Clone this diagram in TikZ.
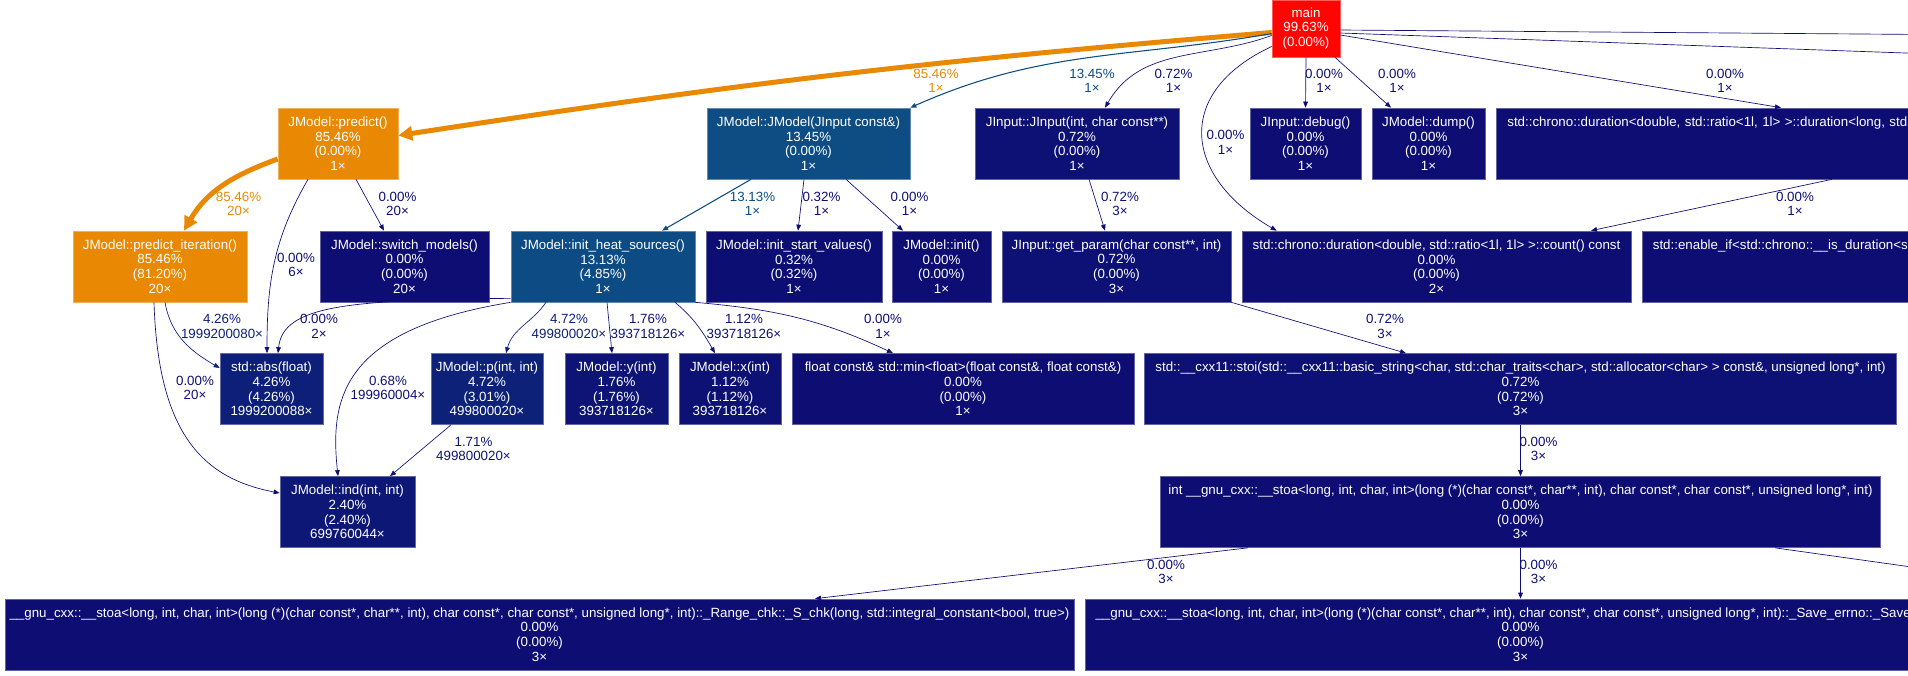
\documentclass[tikz,border=0pt]{standalone}
\usepackage{fontspec}
\setmainfont{Liberation Sans}
\usepackage{tikz}
\usetikzlibrary{calc,arrows.meta}
\definecolor{profRed}{HTML}{FF0400}
\definecolor{profOrange}{HTML}{E98903}
\definecolor{profTeal}{HTML}{0D4D84}
\definecolor{profTealB}{HTML}{0D4B84}
\definecolor{profNavy}{HTML}{0D0D73}
\definecolor{profNavyA}{HTML}{0D0E73}
\definecolor{profNavyB}{HTML}{0D1074}
\definecolor{profNavyC}{HTML}{0D1174}
\definecolor{profNavyD}{HTML}{0D1475}
\definecolor{profNavyE}{HTML}{0D1776}
\definecolor{profNavyF}{HTML}{0D1F78}
\definecolor{profNavyG}{HTML}{0D2179}
\newcommand{\gvfont}{\fontsize{10}{11}\selectfont}
\tikzset{
  fnbox/.style={rectangle, draw=#1!65!white, fill=#1, line width=0.5pt, text=white, font=\gvfont, align=center, inner sep=0pt, minimum height=53.25pt},
  cutbox/.style={fnbox=#1, anchor=west, align=left, text width=420pt, inner xsep=8.25pt},
  callarrow/.style={-{Triangle[length=4.5pt,width=3.5pt]}, line width=0.5pt, draw=#1},
  hotarrow/.style={-{Triangle[length=10.5pt,width=10.5pt]}, line width=3.75pt, draw=profOrange},
  calllabel/.style={text=#1, font=\gvfont, align=center, inner sep=0pt},
}
\begin{document}
\begin{tikzpicture}[x=0.75pt,y=0.75pt]
  \useasboundingbox (0,0) rectangle (1908,-675);
  \clip (0,0) rectangle (1908,-675);

  % --- functions ---
  \node[fnbox=profRed, minimum width=51pt, minimum height=42.75pt] (main) at (1306,-28.5) {main\\99.63\%\\(0.00\%)};

  \node[fnbox=profOrange, minimum width=90pt] (predict) at (338,-143.5) {JModel::predict()\\85.46\%\\(0.00\%)\\1×};
  \node[fnbox=profTeal, minimum width=152.25pt] (jmodel) at (808.5,-143.5) {JModel::JModel(JInput const\&)\\13.45\%\\(0.00\%)\\1×};
  \node[fnbox=profNavyB, minimum width=153pt] (jinput) at (1077,-143.5) {JInput::JInput(int, char const**)\\0.72\%\\(0.00\%)\\1×};
  \node[fnbox=profNavy, minimum width=83.25pt] (debug) at (1305.5,-143.5) {JInput::debug()\\0.00\%\\(0.00\%)\\1×};
  \node[fnbox=profNavy, minimum width=84.75pt] (dump) at (1428.5,-143.5) {JModel::dump()\\0.00\%\\(0.00\%)\\1×};
  \node[cutbox=profNavy] (durlong) at (1496,-143.5) {std::chrono::duration<double, std::ratio<1l, 1l> >::duration<long, std::\\~\\~\\~};

  \node[fnbox=profOrange, minimum width=130.5pt] (predit) at (160,-266.5) {JModel::predict\_iteration()\\85.46\%\\(81.20\%)\\20×};
  \node[fnbox=profNavy, minimum width=126.75pt] (switchm) at (404.5,-266.5) {JModel::switch\_models()\\0.00\%\\(0.00\%)\\20×};
  \node[fnbox=profTealB, minimum width=138pt] (heat) at (603,-266.5) {JModel::init\_heat\_sources()\\13.13\%\\(4.85\%)\\1×};
  \node[fnbox=profNavyA, minimum width=132pt] (startv) at (794,-266.5) {JModel::init\_start\_values()\\0.32\%\\(0.32\%)\\1×};
  \node[fnbox=profNavy, minimum width=74.25pt] (initm) at (941.5,-266.5) {JModel::init()\\0.00\%\\(0.00\%)\\1×};
  \node[fnbox=profNavyB, minimum width=171.75pt] (getparam) at (1116.5,-266.5) {JInput::get\_param(char const**, int)\\0.72\%\\(0.00\%)\\3×};
  \node[fnbox=profNavy, minimum width=291.75pt] (count) at (1436.5,-266.5) {std::chrono::duration<double, std::ratio<1l, 1l> >::count() const\\0.00\%\\(0.00\%)\\2×};
  \node[cutbox=profNavy] (enableif) at (1641.5,-266.5) {std::enable\_if<std::chrono::\_\_is\_duration<st\\~\\~\\~};

  \node[fnbox=profNavyF, minimum width=77.25pt] (absf) at (271.5,-389) {std::abs(float)\\4.26\%\\(4.26\%)\\1999200088×};
  \node[fnbox=profNavyG, minimum width=84pt] (pfn) at (487,-389) {JModel::p(int, int)\\4.72\%\\(3.01\%)\\499800020×};
  \node[fnbox=profNavyD, minimum width=77.25pt] (yfn) at (616.5,-389) {JModel::y(int)\\1.76\%\\(1.76\%)\\393718126×};
  \node[fnbox=profNavyC, minimum width=76.5pt] (xfn) at (730,-389) {JModel::x(int)\\1.12\%\\(1.12\%)\\393718126×};
  \node[fnbox=profNavy, minimum width=256.5pt] (minf) at (963,-389) {float const\& std::min<float>(float const\&, float const\&)\\0.00\%\\(0.00\%)\\1×};
  \node[fnbox=profNavyB, minimum width=564pt] (stoi) at (1520.5,-389) {std::\_\_cxx11::stoi(std::\_\_cxx11::basic\_string<char, std::char\_traits<char>, std::allocator<char> > const\&, unsigned long*, int)\\0.72\%\\(0.72\%)\\3×};

  \node[fnbox=profNavyE, minimum width=101.25pt] (ind) at (347.5,-512) {JModel::ind(int, int)\\2.40\%\\(2.40\%)\\699760044×};
  \node[fnbox=profNavy, minimum width=540pt] (stoa) at (1520.5,-512) {int \_\_gnu\_cxx::\_\_stoa<long, int, char, int>(long (*)(char const*, char**, int), char const*, char const*, unsigned long*, int)\\0.00\%\\(0.00\%)\\3×};

  \node[fnbox=profNavy, minimum width=801.75pt] (rangechk) at (539.5,-634.5) {\_\_gnu\_cxx::\_\_stoa<long, int, char, int>(long (*)(char const*, char**, int), char const*, char const*, unsigned long*, int)::\_Range\_chk::\_S\_chk(long, std::integral\_constant<bool, true>)\\0.00\%\\(0.00\%)\\3×};
  \node[fnbox=profNavy, minimum width=653.25pt] (saveerr) at (1520.5,-634.5) {\makebox[637.5pt][l]{\_\_gnu\_cxx::\_\_stoa<long, int, char, int>(long (*)(char const*, char**, int), char const*, char const*, unsigned long*, int)::\_Save\_errno::\_Save\_}\\0.00\%\\(0.00\%)\\3×};

  % --- calls ---
  \coordinate (offA) at (1990,-35);
  \coordinate (offB) at (1990,-56);
  \coordinate (offC) at (1990,-578);

  \draw[hotarrow] ($(main.west)+(0,-4)$) to[bend right=2] ($(predict.east)+(0,8)$);
  \draw[callarrow=profTeal, line width=0.8pt] ($(main.west)+(0,-5)$) to[out=190,in=24] (jmodel.north east);
  \draw[callarrow=profNavyB] ($(main.west)+(0,-7)$) to[out=200,in=60] ($(jinput.north)+(28,0)$);
  \draw[callarrow=profNavy] ($(main.west)+(0,-18)$) to[out=205,in=150,looseness=1.5] ($(count.north west)+(35,0)$);
  \draw[callarrow=profNavy] (main.south) -- (debug.north);
  \draw[callarrow=profNavy] ($(main.south)+(29,0)$) -- ($(dump.north)+(-37.5,0)$);
  \draw[callarrow=profNavy] ($(main.east)+(0,-6.5)$) -- ($(durlong.north west)+(285,0)$);
  \draw[callarrow=profNavy] ($(main.east)+(0,-1.5)$) -- (offA);
  \draw[callarrow=profNavy] ($(main.east)+(0,-4.5)$) -- (offB);
  \draw[callarrow=profNavy] ($(durlong.south west)+(336,0)$) -- ($(count.north)+(154.5,0)$);

  \draw[hotarrow] ($(predict.west)+(0,-15.5)$) to[out=200,in=60] ($(predit.north)+(24,0)$);
  \draw[callarrow=profNavy] ($(predict.south)+(18,0)$) -- ($(switchm.north)+(-20.5,0)$);
  \draw[callarrow=profNavy] ($(predict.south)+(-30,0)$) to[out=240,in=90] ($(absf.north)+(-4.5,0)$);
  \draw[callarrow=profNavyF] ($(predit.south)+(5,0)$) to[out=280,in=150] ($(absf.west)+(0,21)$);
  \draw[callarrow=profNavy] ($(predit.south)+(-6,0)$) .. controls (158,-430) and (200,-478) .. ($(ind.west)+(0,19)$);

  \draw[callarrow=profTealB, line width=0.8pt] ($(jmodel.south)+(-57.5,0)$) -- ($(heat.north)+(59,0)$);
  \draw[callarrow=profNavyA] ($(jmodel.south)+(-4.5,0)$) -- ($(startv.north)+(4,0)$);
  \draw[callarrow=profNavy] ($(jmodel.south)+(37.5,0)$) -- ($(initm.north)+(-38.5,0)$);
  \draw[callarrow=profNavyB] ($(jinput.south)+(12,0)$) -- ($(getparam.north)+(-11.5,0)$);
  \draw[callarrow=profNavyB] (getparam.south east) -- ($(stoi.north)+(-114.5,0)$);

  \draw[callarrow=profNavy] ($(heat.south west)+(0,4)$) .. controls (350,-300) and (283,-305) .. ($(absf.north)+(6.5,0)$);
  \draw[callarrow=profNavyB] (heat.south west) .. controls (340,-330) and (330,-400) .. ($(ind.north)+(-9.5,0)$);
  \draw[callarrow=profNavyG] ($(heat.south)+(-57,0)$) to[out=235,in=75] ($(pfn.north)+(19,0)$);
  \draw[callarrow=profNavyD] ($(heat.south)+(4,0)$) -- ($(yfn.north)+(-4.5,0)$);
  \draw[callarrow=profNavyC] ($(heat.south)+(72,0)$) to[out=-40,in=120] ($(xfn.north)+(-15,0)$);
  \draw[callarrow=profNavy] (heat.south east) to[out=-5,in=155] ($(minf.north)+(-70,0)$);

  \draw[callarrow=profNavyD] ($(pfn.south)+(-36,0)$) -- ($(ind.north)+(42.5,0)$);
  \draw[callarrow=profNavy] (stoi) -- (stoa);
  \draw[callarrow=profNavy] ($(stoa.south)+(-272.5,0)$) -- ($(rangechk.north)+(275.5,0)$);
  \draw[callarrow=profNavy] (stoa) -- (saveerr);
  \draw[callarrow=profNavy] ($(stoa.south)+(254.5,0)$) -- (offC);

  % --- call labels ---
  \node[calllabel=profOrange] (lmp) at (936,-81) {85.46\%\\1×};
  \node[calllabel=profTeal] (lmj) at (1092,-81) {13.45\%\\1×};
  \node[calllabel=profNavyB] (lmi) at (1173.5,-81) {0.72\%\\1×};
  \node[calllabel=profNavy] (lmc) at (1225.5,-142.5) {0.00\%\\1×};
  \node[calllabel=profNavy] (lmd) at (1324,-81) {0.00\%\\1×};
  \node[calllabel=profNavy] (lmu) at (1397,-81) {0.00\%\\1×};
  \node[calllabel=profNavy] (lml) at (1725,-81) {0.00\%\\1×};
  \node[calllabel=profNavy] (llc) at (1795,-204) {0.00\%\\1×};
  \node[calllabel=profOrange] (lpi) at (238.5,-204) {85.46\%\\20×};
  \node[calllabel=profNavy] (lps) at (397.5,-204) {0.00\%\\20×};
  \node[calllabel=profNavy] (lpa) at (296,-265) {0.00\%\\6×};
  \node[calllabel=profNavyF] (lia) at (222,-326.5) {4.26\%\\1999200080×};
  \node[calllabel=profNavy] (lin) at (195,-388) {0.00\%\\20×};
  \node[calllabel=profNavy] (lha) at (319,-326.5) {0.00\%\\2×};
  \node[calllabel=profNavyB] (lhn) at (388,-388) {0.68\%\\199960004×};
  \node[calllabel=profNavyG] (lhp) at (569,-326.5) {4.72\%\\499800020×};
  \node[calllabel=profNavyD] (lhy) at (648,-326.5) {1.76\%\\393718126×};
  \node[calllabel=profNavyC] (lhx) at (744,-326.5) {1.12\%\\393718126×};
  \node[calllabel=profNavy] (lhm) at (883,-326.5) {0.00\%\\1×};
  \node[calllabel=profTealB] (ljh) at (752.5,-204) {13.13\%\\1×};
  \node[calllabel=profNavyA] (ljs) at (821.5,-204) {0.32\%\\1×};
  \node[calllabel=profNavy] (lji) at (909.5,-204) {0.00\%\\1×};
  \node[calllabel=profNavyB] (lig) at (1120,-204) {0.72\%\\3×};
  \node[calllabel=profNavyB] (lgs) at (1385,-326.5) {0.72\%\\3×};
  \node[calllabel=profNavyD] (lpn) at (473.5,-449) {1.71\%\\499800020×};
  \node[calllabel=profNavy] (lss) at (1538.5,-449) {0.00\%\\3×};
  \node[calllabel=profNavy] (lsr) at (1166,-572) {0.00\%\\3×};
  \node[calllabel=profNavy] (lse) at (1538.5,-572) {0.00\%\\3×};
\end{tikzpicture}
\end{document}
